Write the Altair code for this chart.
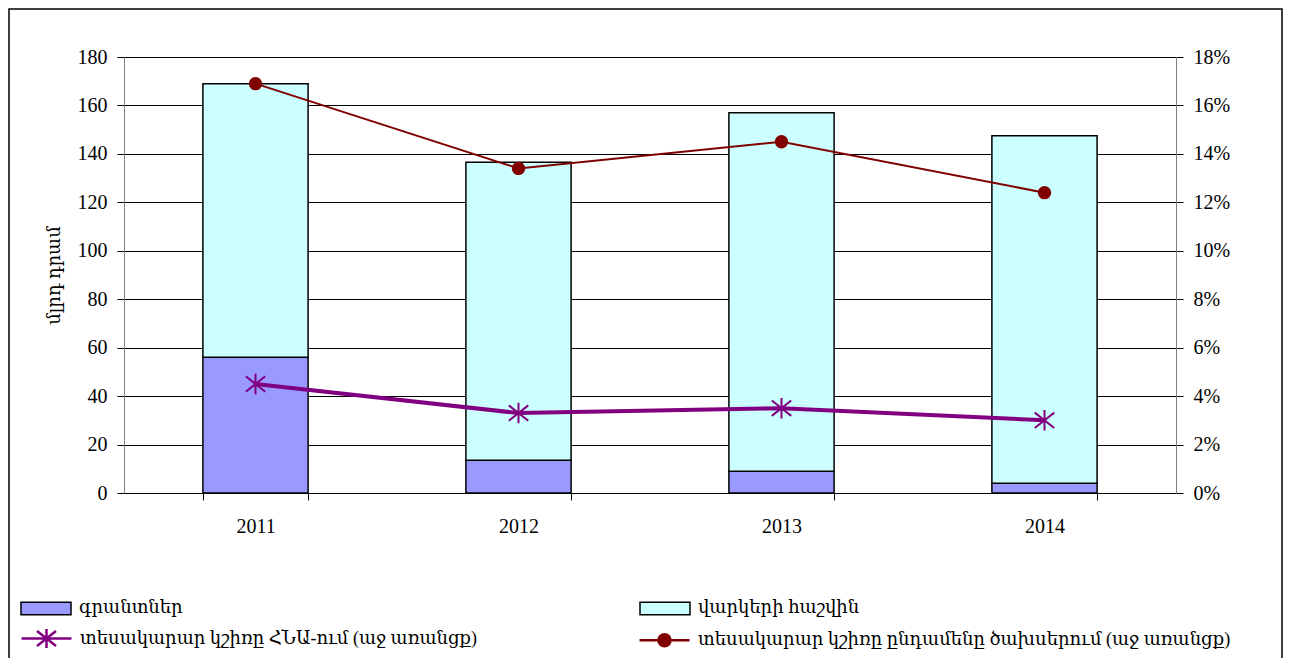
import altair as alt
import pandas as pd

years = ["2011", "2012", "2013", "2014"]
grants = [56, 13.5, 9, 4]
loans = [113, 123, 148, 143.5]
share_gdp = [0.045, 0.033, 0.035, 0.030]
share_budget = [0.169, 0.134, 0.145, 0.124]

s_grant = "գրանտներ"
s_loan = "վարկերի հաշվին"
s_gdp = "տեսակարար կշիռը ՀՆԱ-ում (աջ առանցք)"
s_bud = "տեսակարար կշիռը ընդամենը ծախսերում (աջ առանցք)"
y_title = "մլրդ դրամ"

bar_series = [s_grant, s_loan]
bar_colors = ["#9999FF", "#CCFFFF"]
line_series = [s_gdp, s_bud]
line_colors = ["#800080", "#800000"]

FONT = "Liberation Serif, DejaVu Serif, serif"

bars_df = pd.DataFrame({
    "year": years * 2,
    "series": [s_grant] * 4 + [s_loan] * 4,
    "value": grants + loans,
    "ord": [0] * 4 + [1] * 4,
})
lines_df = pd.DataFrame({
    "year": years * 2,
    "series": [s_gdp] * 4 + [s_bud] * 4,
    "share": share_gdp + share_budget,
})

RECT = "M-1,-0.25H1V0.25H-1Z"
STAR_LEG = "M-1,0H1M0,-0.38V0.38M-0.38,-0.3L0.38,0.3M-0.38,0.3L0.38,-0.3"
CIRC_LEG = "M-1,0H1M0.24,0A0.24,0.24 0 1,1 -0.24,0A0.24,0.24 0 1,1 0.24,0Z"
STAR = "M0,-1V1M-0.95,-0.75L0.95,0.75M-0.95,0.75L0.95,-0.75"

leg_common = dict(
    title=None, orient="none", legendX=-104, direction="horizontal", columns=2,
    symbolSize=2500, labelFont=FONT, labelFontSize=18, labelColor="black",
    labelOffset=7, labelLimit=1000, padding=0, symbolOpacity=1,
)
legend_bars = alt.Legend(legendY=525, columnPadding=454, symbolType=RECT,
                         symbolStrokeColor="black", symbolStrokeWidth=1.5, **leg_common)
legend_lines = alt.Legend(legendY=555, columnPadding=156, symbolStrokeWidth=2.5, **leg_common)

BAR_COLOR = alt.Color("series:N", scale=alt.Scale(domain=bar_series, range=bar_colors),
                      legend=legend_bars)
L_STROKE = alt.Stroke("series:N", scale=alt.Scale(domain=line_series, range=line_colors),
                      legend=legend_lines)
L_FILL = alt.Fill("series:N", scale=alt.Scale(domain=line_series, range=line_colors),
                  legend=legend_lines)
L_SHAPE = alt.Shape("series:N", scale=alt.Scale(domain=line_series, range=[STAR_LEG, CIRC_LEG]),
                    legend=legend_lines)

X = alt.X("year:N", scale=alt.Scale(paddingInner=0.6, paddingOuter=0.3),
          axis=alt.Axis(title=None, labelAngle=0, tickBand="extent", tickSize=7,
                        domainColor="black", tickColor="black", labelPadding=16))

bars = alt.Chart(bars_df).mark_bar(stroke="black", strokeWidth=1.5).encode(
    x=X,
    y=alt.Y("value:Q", stack="zero", scale=alt.Scale(domain=[0, 180], nice=False),
            axis=alt.Axis(values=list(range(0, 181, 20)), title=y_title, grid=True,
                          gridColor="black", gridWidth=1, domainColor="#808080",
                          tickColor="black", tickSize=7, labelPadding=10,
                          titlePadding=14, titleFontSize=18, titleFontWeight="normal")),
    color=BAR_COLOR,
    order=alt.Order("ord:Q"),
)

Y2 = alt.Y("share:Q", scale=alt.Scale(domain=[0, 0.18], nice=False),
           axis=alt.Axis(orient="right", values=[i / 100 for i in range(0, 19, 2)],
                         format=".0%", grid=False, domainColor="#808080",
                         tickColor="black", tickSize=7, labelPadding=10, title=None))

base = alt.Chart(lines_df)
legend_dummy = base.mark_point(size=0, filled=True).encode(
    x=X, y=Y2, fill=L_FILL, stroke=L_STROKE, shape=L_SHAPE)
line_gdp = base.transform_filter(alt.datum.series == s_gdp).mark_line(strokeWidth=4).encode(
    x=X, y=Y2, stroke=L_STROKE)
line_bud = base.transform_filter(alt.datum.series == s_bud).mark_line(strokeWidth=2).encode(
    x=X, y=Y2, stroke=L_STROKE)
pts_gdp = base.transform_filter(alt.datum.series == s_gdp).mark_point(
    shape=STAR, size=420, filled=False, strokeWidth=2, opacity=1).encode(
    x=X, y=Y2, stroke=L_STROKE)
pts_bud = base.transform_filter(alt.datum.series == s_bud).mark_point(
    shape="circle", size=130, filled=True, opacity=1).encode(
    x=X, y=Y2, fill=L_FILL, stroke=L_STROKE)

right = alt.layer(legend_dummy, line_gdp, line_bud, pts_gdp, pts_bud)

frame = alt.Chart(pd.DataFrame({"d": [0]})).mark_rect(
    filled=False, stroke="black", strokeWidth=1.5).encode(
    x=alt.value(-115), x2=alt.value(1158), y=alt.value(-48), y2=alt.value(640))

chart = alt.layer(frame, bars, right).resolve_scale(y="independent").properties(
    width=1052, height=436,
    autosize=alt.AutoSizeParams(type="none"),
    padding={"left": 116, "top": 49, "right": 107, "bottom": 165},
).configure_view(strokeWidth=0).configure_axis(
    labelFont=FONT, titleFont=FONT, labelFontSize=20, labelColor="black", titleColor="black"
)

chart.save("out.html", embed_options={"renderer": "svg", "actions": False})
